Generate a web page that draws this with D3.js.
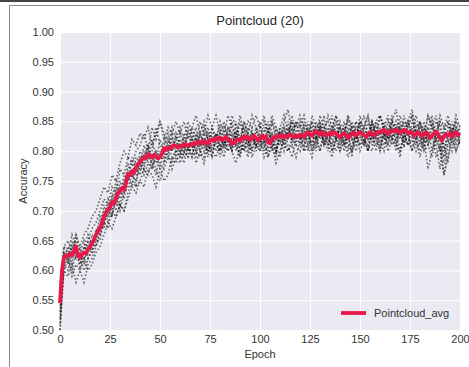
<!DOCTYPE html>
<html>
<head>
<meta charset="utf-8">
<script src="https://cdn.jsdelivr.net/npm/d3@7"></script>
<style>
  body { margin: 0; background: #fff; }
  svg { display: block; font-family: "Liberation Sans", Arial, sans-serif; }
</style>
</head>
<body>
<div id="chart"></div>
<script>
// Pointcloud_avg, one value per epoch (0..200)
const avgValues = [
  0.545, 0.600, 0.622, 0.625, 0.624, 0.628, 0.626, 0.632, 0.640, 0.624,
  0.622, 0.627, 0.630, 0.628, 0.635, 0.640, 0.645, 0.652, 0.660, 0.666,
  0.672, 0.678, 0.690, 0.697, 0.703, 0.706, 0.715, 0.712, 0.722, 0.730,
  0.733, 0.738, 0.735, 0.748, 0.762, 0.760, 0.766, 0.764, 0.772, 0.778,
  0.782, 0.786, 0.790, 0.788, 0.795, 0.792, 0.790, 0.794, 0.791, 0.788,
  0.790, 0.796, 0.805, 0.802, 0.806, 0.804, 0.808, 0.810, 0.808, 0.806,
  0.809, 0.808, 0.812, 0.810, 0.809, 0.812, 0.811, 0.814, 0.812, 0.816,
  0.813, 0.815, 0.818, 0.814, 0.812, 0.818, 0.820, 0.817, 0.822, 0.820,
  0.823, 0.819, 0.821, 0.824, 0.820, 0.818, 0.812, 0.814, 0.819, 0.820,
  0.817, 0.822, 0.825, 0.821, 0.824, 0.819, 0.823, 0.826, 0.822, 0.818,
  0.821, 0.826, 0.822, 0.825, 0.815, 0.813, 0.820, 0.824, 0.822, 0.826,
  0.824, 0.827, 0.823, 0.826, 0.824, 0.828, 0.826, 0.823, 0.826, 0.824,
  0.828, 0.826, 0.824, 0.829, 0.832, 0.828, 0.826, 0.830, 0.834, 0.831,
  0.828, 0.832, 0.829, 0.826, 0.829, 0.831, 0.828, 0.832, 0.830, 0.826,
  0.824, 0.828, 0.830, 0.827, 0.822, 0.825, 0.829, 0.831, 0.826, 0.829,
  0.832, 0.830, 0.827, 0.824, 0.828, 0.832, 0.829, 0.826, 0.830, 0.833,
  0.831, 0.834, 0.836, 0.833, 0.829, 0.832, 0.835, 0.833, 0.836, 0.834,
  0.831, 0.833, 0.836, 0.834, 0.830, 0.833, 0.830, 0.826, 0.829, 0.832,
  0.828, 0.825, 0.829, 0.832, 0.828, 0.822, 0.826, 0.830, 0.833, 0.829,
  0.822, 0.818, 0.825, 0.829, 0.826, 0.830, 0.824, 0.829, 0.832, 0.828,
  0.826
];

// individual runs, one value every 2 epochs (0, 2, ..., 200)
const runA = [
  .52,.62,.63,.61,.65,.60,.64,.63,.66,.65, .68,.70,.69,.73,.71,.75,.73,.77,.78,.76,
  .80,.78,.81,.77,.80,.79,.82,.80,.83,.79, .82,.80,.83,.81,.79,.83,.81,.84,.80,.82,
  .84,.81,.83,.80,.85,.82,.80,.84,.83,.81, .84,.82,.80,.85,.83,.81,.84,.82,.86,.83,
  .81,.85,.83,.80,.84,.82,.86,.81,.84,.83, .80,.85,.82,.84,.81,.86,.83,.80,.85,.82,
  .86,.83,.81,.85,.84,.82,.86,.83,.80,.84, .82,.85,.81,.84,.86,.82,.79,.84,.83,.85,
  .82
];
const runB = [
  .56,.61,.60,.63,.62,.64,.61,.65,.63,.67, .66,.69,.72,.70,.74,.72,.76,.75,.79,.77,
  .76,.80,.78,.82,.79,.77,.81,.83,.80,.82, .79,.83,.80,.82,.84,.80,.83,.79,.83,.81,
  .80,.83,.81,.85,.82,.79,.83,.81,.84,.80, .82,.80,.84,.81,.79,.84,.82,.85,.81,.83,
  .85,.82,.80,.84,.82,.85,.81,.83,.86,.82, .84,.81,.83,.79,.85,.82,.84,.86,.81,.84,
  .82,.85,.83,.86,.81,.84,.82,.85,.83,.81, .85,.82,.84,.80,.83,.85,.81,.78,.84,.82,
  .84
];
const runC = [
  .50,.63,.62,.64,.62,.63,.65,.62,.64,.66, .69,.67,.71,.69,.73,.71,.74,.78,.76,.79,
  .78,.81,.79,.80,.84,.81,.79,.82,.80,.83, .81,.79,.84,.82,.80,.83,.81,.80,.84,.82,
  .83,.80,.84,.82,.81,.85,.82,.83,.80,.84, .81,.83,.85,.80,.84,.82,.80,.83,.85,.82,
  .83,.80,.85,.83,.81,.84,.82,.80,.84,.86, .82,.84,.80,.85,.83,.81,.84,.82,.85,.83,
  .80,.84,.86,.82,.84,.80,.83,.85,.82,.86, .83,.80,.84,.86,.81,.77,.83,.85,.81,.84,
  .83
];
const runD = [
  .54,.62,.64,.62,.66,.63,.62,.64,.65,.64, .67,.71,.68,.72,.70,.74,.72,.75,.77,.74,
  .79,.77,.80,.78,.76,.80,.78,.81,.79,.80, .83,.81,.79,.84,.82,.81,.84,.82,.79,.83,
  .81,.84,.82,.80,.83,.81,.85,.82,.80,.83, .85,.81,.83,.82,.80,.83,.81,.84,.82,.85,
  .82,.84,.81,.85,.83,.80,.84,.82,.81,.85, .81,.83,.85,.82,.80,.84,.81,.85,.83,.80,
  .84,.82,.85,.83,.80,.85,.83,.81,.85,.83, .81,.84,.82,.85,.83,.80,.84,.82,.85,.81,
  .83
];
const runE = [
  .58,.63,.61,.65,.63,.61,.64,.66,.64,.66, .67,.68,.70,.72,.75,.73,.75,.76,.74,.78,
  .77,.79,.81,.79,.78,.82,.80,.79,.82,.81, .80,.82,.81,.79,.83,.82,.80,.83,.82,.80,
  .82,.81,.84,.83,.80,.82,.84,.81,.83,.82, .80,.84,.82,.83,.81,.79,.83,.82,.84,.81,
  .84,.82,.83,.81,.85,.83,.82,.84,.80,.83, .83,.80,.84,.82,.84,.83,.81,.83,.82,.85,
  .83,.81,.84,.82,.85,.83,.81,.84,.86,.82, .84,.81,.83,.82,.85,.84,.80,.83,.82,.84,
  .81
];
const runF = [
  .51,.61,.62,.60,.63,.62,.60,.62,.63,.65, .65,.69,.70,.69,.72,.70,.73,.74,.76,.75,
  .78,.76,.78,.77,.80,.78,.77,.79,.78,.80, .79,.81,.80,.82,.80,.79,.82,.80,.81,.83,
  .80,.82,.80,.81,.83,.80,.81,.79,.82,.81, .83,.81,.79,.82,.80,.83,.81,.80,.82,.81,
  .80,.83,.81,.82,.80,.84,.81,.83,.82,.80, .82,.83,.81,.80,.83,.81,.82,.80,.83,.81,
  .82,.80,.83,.81,.82,.84,.81,.83,.80,.82, .80,.83,.81,.79,.82,.80,.76,.81,.83,.80,
  .82
];
const runG = [
  .55,.64,.63,.66,.64,.62,.63,.65,.67,.68, .70,.72,.71,.74,.73,.77,.76,.79,.78,.80,
  .81,.83,.80,.84,.82,.85,.83,.81,.84,.82, .84,.82,.85,.83,.81,.85,.83,.86,.84,.82,
  .85,.83,.86,.84,.82,.86,.83,.85,.84,.86, .84,.86,.83,.85,.82,.84,.86,.83,.85,.84,
  .86,.84,.82,.86,.84,.85,.83,.86,.84,.82, .85,.83,.86,.84,.82,.85,.84,.86,.83,.85,
  .86,.84,.82,.85,.83,.86,.84,.85,.87,.84, .85,.83,.86,.84,.82,.85,.84,.86,.83,.85,
  .84
];
const runH = [
  .53,.60,.62,.59,.61,.60,.58,.61,.62,.64, .66,.68,.67,.70,.69,.71,.70,.73,.75,.74,
  .75,.77,.76,.79,.77,.75,.78,.80,.77,.79, .78,.80,.79,.81,.78,.80,.79,.82,.80,.79,
  .81,.79,.82,.80,.78,.81,.80,.82,.79,.81, .80,.82,.79,.81,.78,.80,.82,.80,.81,.79,
  .82,.80,.81,.79,.82,.80,.83,.81,.79,.82, .80,.82,.79,.81,.83,.80,.82,.81,.80,.83,
  .81,.83,.80,.82,.81,.80,.83,.81,.82,.80, .82,.80,.81,.83,.79,.81,.78,.82,.80,.83,
  .81
];
const runI = [
  .50,.60,.59,.61,.58,.60,.62,.60,.61,.63, .64,.66,.68,.67,.69,.71,.70,.72,.74,.73,
  .75,.74,.77,.76,.74,.77,.75,.76,.79,.78, .80,.78,.81,.79,.82,.80,.78,.81,.79,.82,
  .79,.82,.80,.83,.81,.79,.82,.80,.83,.81, .82,.79,.81,.83,.80,.82,.84,.81,.79,.82,
  .83,.81,.84,.80,.82,.84,.81,.83,.80,.82, .84,.81,.83,.80,.82,.85,.82,.80,.84,.82,
  .80,.83,.81,.84,.82,.79,.83,.81,.84,.82, .79,.82,.77,.80,.83,.81,.76,.79,.82,.80,
  .82
];
const runJ = [
  .57,.64,.65,.63,.66,.64,.66,.67,.69,.70, .72,.74,.73,.76,.75,.78,.80,.79,.82,.81,
  .83,.82,.84,.81,.83,.85,.82,.84,.83,.85, .83,.85,.82,.84,.86,.83,.85,.82,.84,.86,
  .83,.85,.82,.86,.84,.82,.85,.83,.86,.84, .82,.85,.83,.86,.84,.82,.85,.87,.83,.85,
  .84,.86,.83,.85,.82,.86,.84,.85,.83,.86, .84,.82,.86,.83,.85,.84,.86,.82,.85,.83,
  .86,.84,.82,.85,.87,.83,.85,.84,.86,.83, .85,.82,.86,.84,.83,.86,.84,.85,.83,.86,
  .84
];
const runs = [runA, runB, runC, runD, runE, runF, runG, runH, runI, runJ];
const runStep = 2;

const xTicks = [0, 25, 50, 75, 100, 125, 150, 175, 200];
const yTicks = [0.50, 0.55, 0.60, 0.65, 0.70, 0.75, 0.80, 0.85, 0.90, 0.95, 1.00];
const titleText = 'Pointcloud (20)';
const legendLabel = 'Pointcloud_avg';

const width = 469, height = 367;
const margin = { top: 32, right: 9, bottom: 37, left: 60 };
const innerWidth = width - margin.left - margin.right;
const innerHeight = height - margin.top - margin.bottom;
const red = '#e8194a';

const svg = d3.select('#chart').append('svg')
  .attr('width', width)
  .attr('height', height);

// screenshot frame lines
svg.append('line').attr('x1', 0).attr('x2', width).attr('y1', 1).attr('y2', 1)
  .attr('stroke', '#444').attr('stroke-width', 2);
svg.append('path').attr('d', `M9.5,${height}V5.5H${width}`)
  .attr('fill', 'none').attr('stroke', '#888').attr('stroke-width', 1);

const g = svg.append('g').attr('transform', `translate(${margin.left},${margin.top})`);

const x = d3.scaleLinear().domain([0, 200]).range([0, innerWidth]);
const y = d3.scaleLinear().domain([0.5, 1.0]).range([innerHeight, 0]);

g.append('rect').attr('width', innerWidth).attr('height', innerHeight).attr('fill', '#eaeaf2');

// grid
g.append('g')
  .call(d3.axisLeft(y).tickValues(yTicks).tickSize(-innerWidth).tickFormat(''))
  .call(a => a.select('.domain').remove())
  .selectAll('line').attr('stroke', '#fff').attr('stroke-width', 1);
g.append('g')
  .attr('transform', `translate(0,${innerHeight})`)
  .call(d3.axisBottom(x).tickValues(xTicks).tickSize(-innerHeight).tickFormat(''))
  .call(a => a.select('.domain').remove())
  .selectAll('line').attr('stroke', '#fff').attr('stroke-width', 1);

// axis labels
g.append('g')
  .call(d3.axisLeft(y).tickValues(yTicks).tickSize(0).tickPadding(6).tickFormat(d3.format('.2f')))
  .call(a => a.select('.domain').remove())
  .selectAll('text').attr('fill', '#333').style('font-size', '11px');
g.append('g')
  .attr('transform', `translate(0,${innerHeight})`)
  .call(d3.axisBottom(x).tickValues(xTicks).tickSize(0).tickPadding(5).tickFormat(d3.format('d')))
  .call(a => a.select('.domain').remove())
  .selectAll('text').attr('fill', '#333').style('font-size', '11px');

// runs (dotted)
const runLine = d3.line().x((d, i) => x(i * runStep)).y(d => y(d));
g.selectAll('.run')
  .data(runs)
  .enter()
  .append('path')
  .attr('class', 'run')
  .attr('fill', 'none')
  .attr('stroke', '#000')
  .attr('stroke-opacity', 0.55)
  .attr('stroke-width', 1.6)
  .attr('stroke-dasharray', '1.6,2')
  .attr('d', runLine);

// average
const avgLine = d3.line().x((d, i) => x(i)).y(d => y(d));
g.append('path')
  .datum(avgValues)
  .attr('fill', 'none')
  .attr('stroke', red)
  .attr('stroke-width', 3.8)
  .attr('stroke-linejoin', 'round')
  .attr('d', avgLine);

// title and axis titles
svg.append('text').attr('x', margin.left + innerWidth / 2).attr('y', 25)
  .attr('text-anchor', 'middle').attr('fill', '#262626').style('font-size', '13px')
  .text(titleText);
svg.append('text').attr('x', margin.left + innerWidth / 2).attr('y', 358)
  .attr('text-anchor', 'middle').attr('fill', '#333').style('font-size', '11px')
  .text('Epoch');
svg.append('text')
  .attr('transform', `translate(27,${margin.top + innerHeight / 2}) rotate(-90)`)
  .attr('text-anchor', 'middle').attr('fill', '#333').style('font-size', '11px')
  .text('Accuracy');

// legend
const lg = svg.append('g').attr('transform', 'translate(341,313)');
lg.append('line').attr('x1', 0).attr('x2', 25).attr('y1', 0).attr('y2', 0)
  .attr('stroke', red).attr('stroke-width', 3.8);
lg.append('text').attr('x', 33).attr('y', 4).attr('fill', '#333').style('font-size', '11px')
  .text(legendLabel);
</script>
</body>
</html>
